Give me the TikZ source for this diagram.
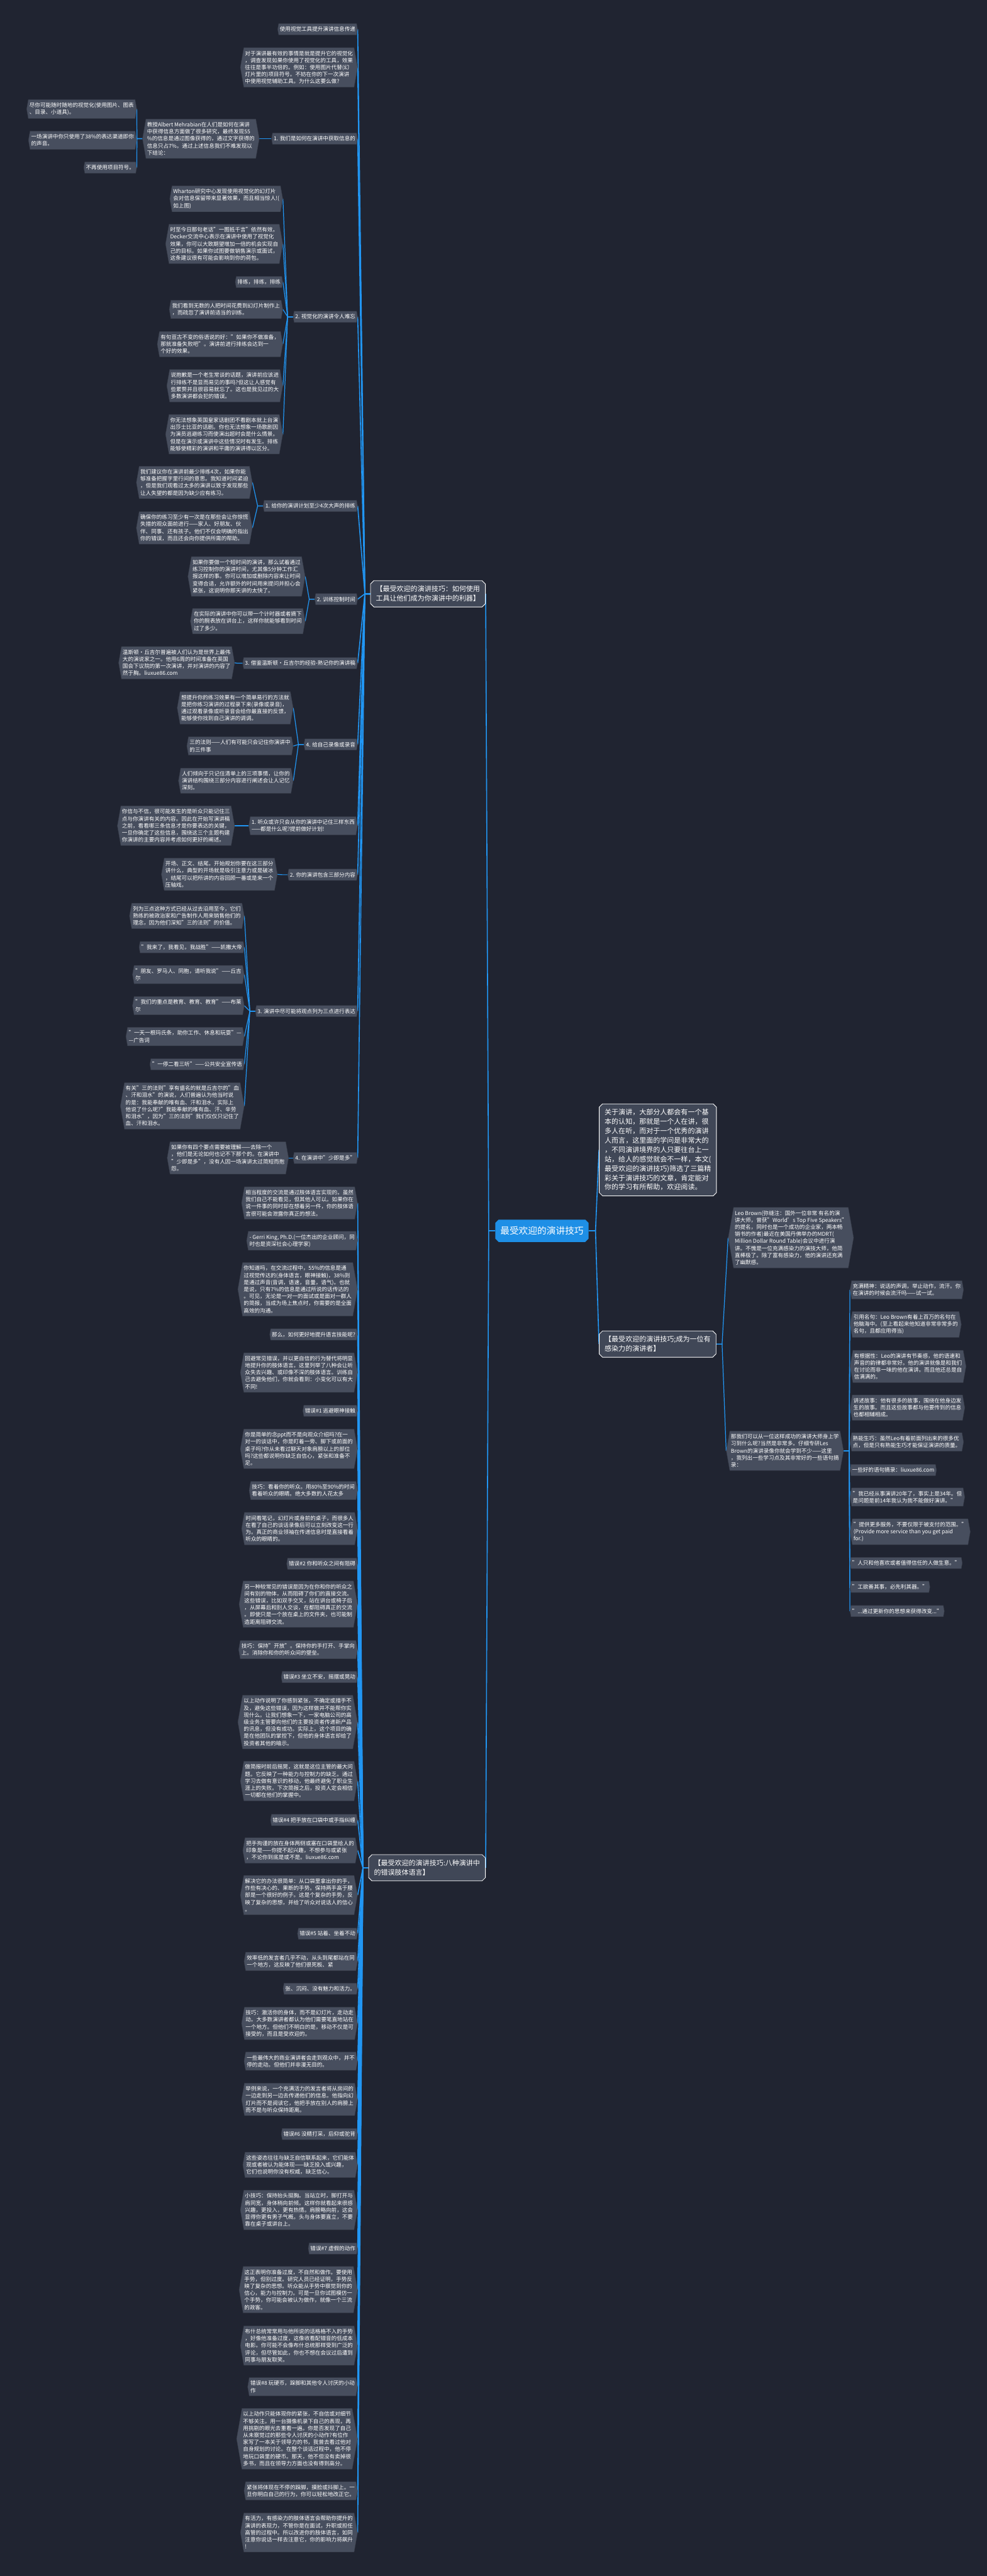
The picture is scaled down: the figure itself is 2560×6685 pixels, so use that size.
\documentclass[tikz,border=0pt]{standalone}
\usepackage{fontspec}
\setmainfont{Noto Sans CJK SC}
\usetikzlibrary{shapes.symbols,shapes.misc,backgrounds}
\definecolor{bgc}{HTML}{202431}
\definecolor{leaff}{HTML}{474E5E}
\definecolor{leafd}{HTML}{383D4A}
\definecolor{mainf}{HTML}{404757}
\definecolor{lblue}{HTML}{2196F3}
\definecolor{rootf}{HTML}{1E8FE6}
\begin{document}
\begin{tikzpicture}[x=1pt,y=-1pt,
 leaf/.style={signal, signal to=west and east, signal pointer angle=160, fill=leaff, draw=leafd, line width=0.8pt, text=white, inner xsep=3pt, inner ysep=8pt, align=left, font=\fontsize{14}{18.3}\selectfont},
 mainbox/.style={chamfered rectangle, chamfered rectangle xsep=5pt, fill=mainf, draw=white, line width=1.4pt, text=white, inner xsep=9pt, inner ysep=10pt, align=left, font=\fontsize{18}{24.3}\selectfont},
 rootbox/.style={chamfered rectangle, chamfered rectangle xsep=5pt, fill=rootf, text=white, font=\fontsize{24}{28}\selectfont, minimum width=236pt, minimum height=58pt, inner xsep=8pt},
 lnk/.style={draw=lblue, line width=2pt},
 lnkm/.style={draw=lblue, line width=2.6pt},
]
\useasboundingbox (0,0) rectangle (2560,6685);
% ---------- root and right side ----------
\node[rootbox] (root) at (1406,3194) {最受欢迎的演讲技巧};
\node[mainbox,anchor=west] (about) at (1554,2984) {关于演讲，大部分人都会有一个基\\本的认知，那就是一个人在讲，很\\多人在听，而对于一个优秀的演讲\\人而言，这里面的学问是非常大的\\，不同演讲境界的人只要往台上一\\站，给人的感觉就会不一样，本文(\\最受欢迎的演讲技巧)筛选了三篇精\\彩关于演讲技巧的文章，肯定能对\\你的学习有所帮助，欢迎阅读。};
\node[mainbox,anchor=west] (m3) at (1554,3488) {【最受欢迎的演讲技巧;成为一位有\\感染力的演讲者】};
\node[leaf,anchor=west] (leo) at (1889,3212) {Leo Brown(弥缝注：国外一位非常 有名的演\\讲大师，曾获"World's Top Five Speakers"\\的提名，同时也是一个成功的企业家，两本畅\\销书的作者)最近在美国丹佛举办的MDRT(\\Million Dollar Round Table)会议中进行演\\讲。不愧是一位充满感染力的演技大师，他简\\直棒极了。除了富有感染力，他的演讲还充满\\了幽默感。};
\node[leaf,anchor=west] (lrn) at (1884,3765) {那我们可以从一位这样成功的演讲大师身上学\\习到什么呢?当然是非常多。仔细专研Les\\Brown的演讲录像你就会学到不少——这里\\，我列出一些学习点及其非常好的一些语句摘\\录：};
\node[leaf,anchor=west] (r1) at (2205,3347) {充满精神：说话的声调，举止动作，流汗。你\\在演讲的时候会流汗吗——试一试。};
\node[leaf,anchor=west] (r2) at (2205,3437) {引用名句：Leo Brown有着上百万的名句在\\他脑海中。(至上看起来他知道非常非常多的\\名句，且都应用得当)};
\node[leaf,anchor=west] (r3) at (2205,3546) {有根据性：Leo的演讲有节奏感，他的语速和\\声音的韵律都非常好。他的演讲就像是和我们\\在讨论而非一味的他在演讲。而且他还总是自\\信满满的。};
\node[leaf,anchor=west] (r4) at (2205,3653) {讲述故事：他有很多的故事，围绕在他身边发\\生的故事。而且这些故事都与他要传到的信息\\也都相辅相成。};
\node[leaf,anchor=west] (r5) at (2205,3742) {熟能生巧：虽然Leo有着前面列出来的很多优\\点，但是只有熟能生巧才能保证演讲的质量。};
\node[leaf,anchor=west] (r6) at (2205,3815) {一些好的语句摘录：liuxue86.com};
\node[leaf,anchor=west] (r7) at (2205,3885) {"我已经从事演讲20年了，事实上是34年。但\\是问题是前14年我认为我不能做好演讲。"};
\node[leaf,anchor=west] (r8) at (2205,3975) {"提供更多服务，不要仅限于被支付的范围。"\\(Provide more service than you get paid\\for.)};
\node[leaf,anchor=west] (r9) at (2205,4056) {"人只和他喜欢或者值得信任的人做生意。"};
\node[leaf,anchor=west] (r10) at (2205,4118) {"工欲善其事，必先利其器。"};
\node[leaf,anchor=west] (r11) at (2205,4181) {"...通过更新你的思想来获得改变..."};
% ---------- left top main ----------
\node[mainbox,anchor=east] (m1) at (1260,1541) {【最受欢迎的演讲技巧：如何使用\\工具让他们成为你演讲中的利器】};
\node[leaf,anchor=east] (a1) at (928,76) {使用视觉工具提升演讲信息传递};
\node[leaf,anchor=east] (a2) at (928,175) {对于演讲最有效的事情是就是提升它的视觉化\\，调查发现如果你使用了视觉化的工具，效果\\往往是事半功倍的。例如：使用图片代替(幻\\灯片里的)项目符号。不妨在你的下一次演讲\\中使用视觉辅助工具。为什么这要么做?};
\node[leaf,anchor=east] (a3) at (928,360) {1. 我们是如何在演讲中获取信息的};
\node[leaf,anchor=east] (b) at (673,360) {教授Albert Mehrabian在人们是如何在演讲\\中获得信息方面做了很多研究，最终发现55\\\%的信息是通过图像获得的，通过文字获得的\\信息只占7\%。通过上述信息我们不难发现以\\下结论：};
\node[leaf,anchor=east] (c1) at (355,283) {尽你可能随时随地的视觉化(使用图片、图表\\、目录、小道具)。};
\node[leaf,anchor=east] (c2) at (355,364) {一场演讲中你只使用了38\%的表达渠道即你\\的声音。};
\node[leaf,anchor=east] (c3) at (355,435) {不再使用项目符号。};
\node[leaf,anchor=east] (a4) at (928,822) {2. 视觉化的演讲令人难忘};
\node[leaf,anchor=east] (d41) at (734,516) {Wharton研究中心发现使用视觉化的幻灯片\\会对信息保留带来显著效果，而且相当惊人!(\\如上图)};
\node[leaf,anchor=east] (d42) at (734,633) {时至今日那句老话"一图抵千言"依然有效。\\Decker交流中心表示在演讲中使用了视觉化\\效果，你可以大致期望增加一倍的机会实现自\\己的目标。如果你试图要做销售演示或面试，\\这条建议很有可能会影响到你的荷包。};
\node[leaf,anchor=east] (d43) at (734,732) {排练，排练，排练};
\node[leaf,anchor=east] (d44) at (734,803) {我们看到无数的人把时间花费到幻灯片制作上\\，而疏忽了演讲前适当的训练。};
\node[leaf,anchor=east] (d45) at (734,893) {有句亘古不变的俗语说的好："如果你不做准备，\\那就准备失败吧"。演讲前进行排练会达到一\\个好的效果。};
\node[leaf,anchor=east] (d46) at (734,1001) {说抱歉是一个老生常谈的话题，演讲前应该进\\行排练不是显而易见的事吗?但这让人感觉有\\些累赘并且很容易就忘了。这也是我见过的大\\多数演讲都会犯的错误。};
\node[leaf,anchor=east] (d47) at (734,1127) {你无法想象英国皇家话剧团不看剧本就上台演\\出莎士比亚的话剧。你也无法想象一场歌剧因\\为演员逃避练习而使演出超时会是什么情景。\\但是在演示或演讲中这些情况时有发生。排练\\能够使精彩的演讲和平庸的演讲得以区分。};
\node[leaf,anchor=east] (a5) at (928,1313) {1. 给你的演讲计划至少4次大声的排练};
\node[leaf,anchor=east] (d51) at (655,1252) {我们建议你在演讲前最少排练4次，如果你能\\够准备把握字里行间的意思。我知道时间紧迫\\，但是我们观看过太多的演讲以致于发现那些\\让人失望的都是因为缺少应有练习。};
\node[leaf,anchor=east] (d52) at (655,1370) {确保你的练习至少有一次是在那些会让你惊慌\\失措的观众面前进行——家人、好朋友、伙\\伴、同事、还有孩子。他们不仅会明确的指出\\你的错误，而且还会向你提供所需的帮助。};
\node[leaf,anchor=east] (a6) at (928,1555) {2. 训练控制时间};
\node[leaf,anchor=east] (d61) at (792,1496) {如果你要做一个短时间的演讲，那么试着通过\\练习控制你的演讲时间，尤其像5分钟工作汇\\报这样的事。你可以增加或删除内容来让时间\\变得合适，允许额外的时间用来提问并担心会\\紧张，这说明你那天讲的太快了。};
\node[leaf,anchor=east] (d62) at (792,1612) {在实际的演讲中你可以带一个计时器或者摘下\\你的腕表放在讲台上，这样你就能够看到时间\\过了多少。};
\node[leaf,anchor=east] (a7) at (928,1721) {3. 借鉴温斯顿·丘吉尔的经验-熟记你的演讲稿};
\node[leaf,anchor=east] (d71) at (609,1720) {温斯顿·丘吉尔普遍被人们认为是世界上最伟\\大的演说家之一。他用6周的时间准备在英国\\国会下议院的第一次演讲，并对演讲的内容了\\然于胸。liuxue86.com};
\node[leaf,anchor=east] (a8) at (928,1932) {4. 给自己录像或录音};
\node[leaf,anchor=east] (d81) at (761,1837) {想提升你的练习效果有一个简单易行的方法就\\是把你练习演讲的过程录下来(录像或录音)，\\通过观看录像或听录音会给你最直接的反馈，\\能够使你找到自己演讲的调调。};
\node[leaf,anchor=east] (d82) at (761,1936) {三的法则——人们有可能只会记住你演讲中\\的三件事};
\node[leaf,anchor=east] (d83) at (761,2026) {人们倾向于只记住清单上的三项事情，让你的\\演讲结构围绕三部分内容进行阐述会让人记忆\\深刻。};
\node[leaf,anchor=east] (a9) at (928,2143) {1. 听众或许只会从你的演讲中记住三样东西\\——都是什么呢?提前做好计划!};
\node[leaf,anchor=east] (d91) at (609,2143) {你信与不信，很可能发生的是听众只能记住三\\点与你演讲有关的内容。因此在开始写演讲稿\\之前，看看哪三条信息才是你要表达的关键，\\一旦你确定了这些信息，围绕这三个主题构建\\你演讲的主要内容并考虑如何更好的阐述。};
\node[leaf,anchor=east] (a10) at (928,2270) {2. 你的演讲包含三部分内容};
\node[leaf,anchor=east] (d101) at (720,2269) {开场、正文、结尾。开始规划你要在这三部分\\讲什么，典型的开场就是吸引注意力或是破冰\\，结尾可以把所讲的内容回顾一番或是来一个\\压轴戏。};
\node[leaf,anchor=east] (a11) at (928,2624) {3. 演讲中尽可能将观点列为三点进行表达};
\node[leaf,anchor=east] (d111) at (634,2377) {列为三点这种方式已经从过去沿用至今，它们\\熟练的被政治家和广告制作人用来销售他们的\\理念，因为他们深知"三的法则"的价值。};
\node[leaf,anchor=east] (d112) at (634,2458) {"我来了，我看见，我战胜"——凯撒大帝};
\node[leaf,anchor=east] (d113) at (634,2529) {"朋友、罗马人、同胞，请听我说"——丘吉\\尔};
\node[leaf,anchor=east] (d114) at (634,2610) {"我们的重点是教育、教育、教育"——布莱\\尔};
\node[leaf,anchor=east] (d115) at (634,2690) {"一天一根玛氏条，助你工作、休息和玩耍"—\\—广告词};
\node[leaf,anchor=east] (d116) at (634,2762) {"一停二看三听"——公共安全宣传语};
\node[leaf,anchor=east] (d117) at (634,2870) {有关"三的法则"享有盛名的就是丘吉尔的"血\\、汗和泪水"的演说，人们普遍认为他当时说\\的是：我能奉献的唯有血、汗和泪水，实际上\\他说了什么呢?"我能奉献的唯有血、汗、辛劳\\和泪水"，因为"三的法则"我们仅仅只记住了\\血、汗和泪水。};
\node[leaf,anchor=east] (a12) at (928,3005) {4. 在演讲中"少即是多"};
\node[leaf,anchor=east] (d121) at (749,3005) {如果你有四个要点需要被理解——去除一个\\，他们是无论如何也记不下那个的。在演讲中\\"少即是多"，没有人因一场演讲太过简短而抱\\怨。};
% ---------- left bottom main ----------
\node[mainbox,anchor=east] (m2) at (1260,4847) {【最受欢迎的演讲技巧:八种演讲中\\的错误肢体语言】};
\node[leaf,anchor=east] (e1) at (928,3122) {相当程度的交流是通过肢体语言实现的。虽然\\我们自己不能看见，但其他人可以。如果你在\\说一件事的同时却在想着另一件，你的肢体语\\言很可能会泄露你真正的想法。};
\node[leaf,anchor=east] (e2) at (928,3220) {- Gerri King, Ph.D.(一位杰出的企业顾问，同\\时也是资深社会心理学家)};
\node[leaf,anchor=east] (e3) at (928,3346) {你知道吗，在交流过程中，55\%的信息是通\\过视觉传达的(身体语言，眼神接触)，38\%则\\是通过声音(音调，语速，音量，语气)。也就\\是说，只有7\%的信息是通过所说的话传达的\\。可见，无论是一对一的面试或是面对一群人\\的简报，当成为场上焦点时，你需要的是全面\\高效的沟通。};
\node[leaf,anchor=east] (e4) at (928,3463) {那么，如何更好地提升语言技能呢?};
\node[leaf,anchor=east] (e5) at (928,3562) {回避常见错误，并以更自信的行为替代将明显\\地提升你的肢体语言。这里列举了八种会让听\\众失去兴趣、或印像不深的肢体语言。训练自\\己去避免他们，你就会看到：小变化可以有大\\不同!};
\node[leaf,anchor=east] (e6) at (928,3661) {错误\#1 逃避眼神接触};
\node[leaf,anchor=east] (e7) at (928,3760) {你是简单的念ppt而不是向观众介绍吗?在一\\对一的谈话中，你是盯着一旁、脚下或前面的\\桌子吗?你从未看过聊天对象肩膀以上的部位\\吗?这些都说明你缺乏自信心，紧张和准备不\\足。};
\node[leaf,anchor=east] (e8) at (928,3868) {技巧：看着你的听众。用80\%至90\%的时间\\看着听众的眼睛。绝大多数的人花太多};
\node[leaf,anchor=east] (e9) at (928,3967) {时间看笔记，幻灯片或身前的桌子，而很多人\\在看了自己的谈话录像后可以立刻改变这一行\\为。真正的商业领袖在传递信息时是直接看着\\听众的眼睛的。};
\node[leaf,anchor=east] (e10) at (928,4058) {错误\#2 你和听众之间有阻碍};
\node[leaf,anchor=east] (e11) at (928,4163) {另一种较常见的错误是因为在你和你的听众之\\间有别的物体，从而阻碍了你们的直接交流。\\这些错误，比如双手交叉，站在讲台或椅子后\\，从屏幕后和别人交谈，在都阻碍真正的交流\\。即使只是一个放在桌上的文件夹，也可能制\\造距离阻碍交流。};
\node[leaf,anchor=east] (e12) at (928,4281) {技巧：保持"开放"。保持你的手打开、手掌向\\上。消除你和你的听众间的壁垒。};
\node[leaf,anchor=east] (e13) at (928,4352) {错误\#3 坐立不安，摇摆或晃动};
\node[leaf,anchor=east] (e14) at (928,4469) {以上动作说明了你感到紧张，不确定或措手不\\及，避免这些错误，因为这样做并不能帮你实\\现什么。让我们想象一下，一家电脑公司的高\\级业务主管要向他们的主要投资者传递新产品\\的讯息，但没有成功。实际上，这个项目的确\\是在他团队的掌控下，但他的身体语言却给了\\投资者其他的暗示。};
\node[leaf,anchor=east] (e15) at (928,4622) {做简报时前后摇晃，这就是这位主管的最大问\\题。它反映了一种能力与控制力的缺乏。通过\\学习去做有意识的移动，他最终避免了职业生\\涯上的失败。下次简报之后，投资人定会相信\\一切都在他们的掌握中。};
\node[leaf,anchor=east] (e16) at (928,4723) {错误\#4 把手放在口袋中或手指纠缠};
\node[leaf,anchor=east] (e17) at (928,4802) {把手拘谨的放在身体两侧或塞在口袋里给人的\\印象是——你提不起兴趣，不想参与或紧张\\，不论你到底是或不是。liuxue86.com};
\node[leaf,anchor=east] (e18) at (928,4918) {解决它的办法很简单：从口袋里拿出你的手，\\作些有决心的、果断的手势。保持两手高于腰\\部是一个很好的例子。这是个复杂的手势，反\\映了复杂的思想，并给了听众对说话人的信心\\。};
\node[leaf,anchor=east] (e19) at (928,5018) {错误\#5 站着、坐着不动};
\node[leaf,anchor=east] (e20) at (928,5090) {效率低的发言者几乎不动，从头到尾都站在同\\一个地方，这反映了他们很死板、紧};
\node[leaf,anchor=east] (e21) at (928,5161) {张、沉闷、没有魅力和活力。};
\node[leaf,anchor=east] (e22) at (928,5251) {技巧：激活你的身体，而不是幻灯片，走动走\\动。大多数演讲者都认为他们需要笔直地站在\\一个地方。但他们不明白的是，移动不仅是可\\接受的，而且是受欢迎的。};
\node[leaf,anchor=east] (e23) at (928,5349) {一些最伟大的商业演讲者会走到观众中，并不\\停的走动。但他们并非漫无目的。};
\node[leaf,anchor=east] (e24) at (928,5448) {举例来说，一个充满活力的发言者将从房间的\\一边走到另一边去传递他们的信息。他指向幻\\灯片而不是阅读它，他把手放在别人的肩膀上\\而不是与听众保持距离。};
\node[leaf,anchor=east] (e25) at (928,5538) {错误\#6 没精打采，后仰或驼背};
\node[leaf,anchor=east] (e26) at (928,5618) {这些姿态往往与缺乏自信联系起来，它们能体\\现或者被认为能体现——缺乏投入或兴趣，\\它们也说明你没有权威，缺乏信心。};
\node[leaf,anchor=east] (e27) at (928,5735) {小技巧：保持抬头挺胸。当站立时，脚打开与\\肩同宽，身体稍向前倾。这样你就看起来很感\\兴趣，更投入，更有热情。肩膀略向前，这会\\显得你更有男子气概。头与身体要直立，不要\\靠在桌子或讲台上。};
\node[leaf,anchor=east] (e28) at (928,5835) {错误\#7 虚假的动作};
\node[leaf,anchor=east] (e29) at (928,5942) {这正表明你准备过度，不自然和做作。要使用\\手势，但别过度。研究人员已经证明，手势反\\映了复杂的思想。听众能从手势中察觉到你的\\信心，能力与控制力。可是一旦你试图模仿一\\个手势，你可能会被认为做作，就像一个三流\\的政客。};
\node[leaf,anchor=east] (e30) at (928,6087) {布什总统常常用与他所说的话格格不入的手势\\，好像他准备过度，这像收看配错音的低成本\\电影。你可能不会像布什总统那样受到广泛的\\评论，但尽管如此，你也不想在会议过后遭到\\同事与朋友取笑。};
\node[leaf,anchor=east] (e31) at (928,6194) {错误\#8 玩硬币，跺脚和其他令人讨厌的小动\\作};
\node[leaf,anchor=east] (e32) at (928,6329) {以上动作只能体现你的紧张，不自信或对细节\\不够关注。用一台摄像机录下自己的表现，再\\用挑剔的眼光去重看一遍。你是否发现了自己\\从未察觉过的那些令人讨厌的小动作?有位作\\家写了一本关于领导力的书，我曾去看过他对\\自身规划的讨论。在整个谈话过程中，他不停\\地玩口袋里的硬币。那天，他不但没有卖掉很\\多书，而且在领导力方面也没有得到高分。};
\node[leaf,anchor=east] (e33) at (928,6464) {紧张将体现在不停的跺脚，摸脸或抖脚上。一\\旦你明白自己的行为，你可以轻松地改正它。};
\node[leaf,anchor=east] (e34) at (928,6572) {有活力，有感染力的肢体语言会帮助你提升的\\演讲的表现力，不管你是在面试，升职或担任\\高管的过程中。所以改进你的肢体语言，如同\\注意你说话一样去注意它，你的影响力将飙升\\!};
% ---------- connectors ----------
\begin{scope}[on background layer]
\fill[bgc] (0,0) rectangle (2560,6685);
\foreach \c in {m1,m2} \draw[lnkm] (root.west) -- (1268,3194) -- (\c.east);
\foreach \c in {about,m3} \draw[lnkm] (root.east) -- (1545,3194) -- (\c.west);
\foreach \c in {leo,lrn} \draw[lnk] (m3.east) -- ++(15,0) -- (\c.west);
\foreach \c in {r1,r2,r3,r4,r5,r6,r7,r8,r9,r10,r11} \draw[lnk] (lrn.east) -- ++(14,0) -- (\c.west);
\foreach \c in {a1,a2,a3,a4,a5,a6,a7,a8,a9,a10,a11,a12} \draw[lnkm] (m1.west) -- ++(-14,0) -- (\c.east);
\foreach \c in {e1,e2,e3,e4,e5,e6,e7,e8,e9,e10,e11,e12,e13,e14,e15,e16,e17,e18,e19,e20,e21,e22,e23,e24,e25,e26,e27,e28,e29,e30,e31,e32,e33,e34} \draw[lnkm] (m2.west) -- ++(-14,0) -- (\c.east);
\draw[lnk] (a3.west) -- ++(-14,0) -- (b.east);
\foreach \c in {c1,c2,c3} \draw[lnk] (b.west) -- ++(-14,0) -- (\c.east);
\foreach \c in {d41,d42,d43,d44,d45,d46,d47} \draw[lnk] (a4.west) -- ++(-14,0) -- (\c.east);
\foreach \c in {d51,d52} \draw[lnk] (a5.west) -- ++(-14,0) -- (\c.east);
\foreach \c in {d61,d62} \draw[lnk] (a6.west) -- ++(-14,0) -- (\c.east);
\draw[lnk] (a7.west) -- ++(-14,0) -- (d71.east);
\foreach \c in {d81,d82,d83} \draw[lnk] (a8.west) -- ++(-14,0) -- (\c.east);
\draw[lnk] (a9.west) -- ++(-14,0) -- (d91.east);
\draw[lnk] (a10.west) -- ++(-14,0) -- (d101.east);
\foreach \c in {d111,d112,d113,d114,d115,d116,d117} \draw[lnk] (a11.west) -- ++(-14,0) -- (\c.east);
\draw[lnk] (a12.west) -- ++(-14,0) -- (d121.east);
\end{scope}
\end{tikzpicture}
\end{document}
